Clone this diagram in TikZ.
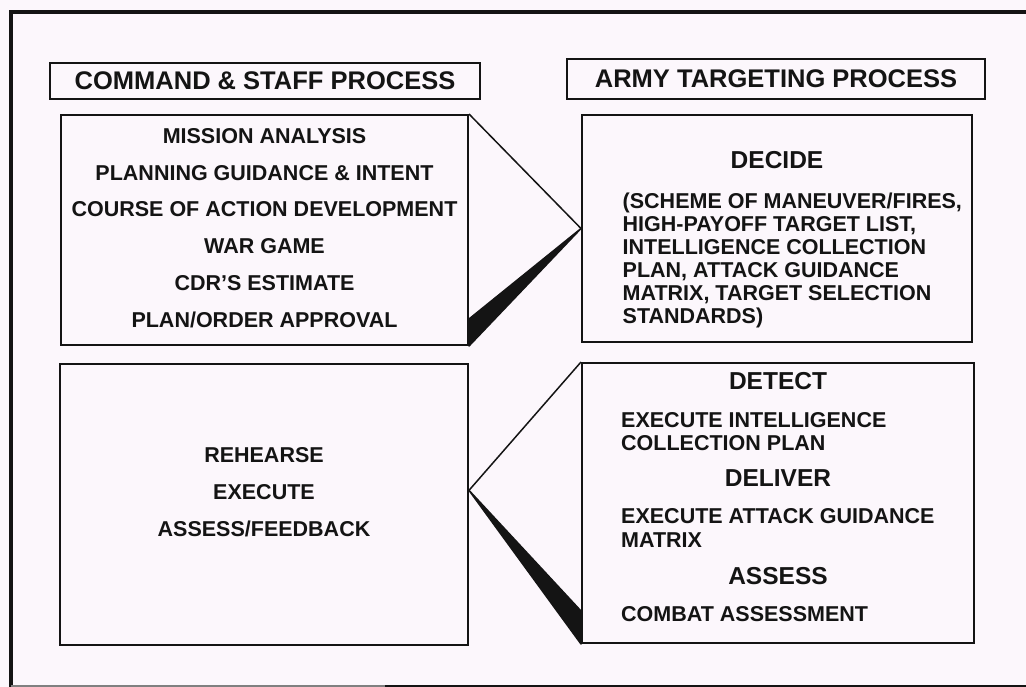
\documentclass[tikz,border=0pt]{standalone}
\usepackage{fontspec}
\setmainfont{Liberation Sans}
\usetikzlibrary{calc}
\definecolor{bgpink}{RGB}{252,247,252}
\definecolor{ink}{RGB}{20,20,20}
\begin{document}
\begin{tikzpicture}[x=1pt,y=-1pt,
  panel/.style={draw=ink, line width=2pt, inner sep=0pt},
  headbox/.style={draw=ink, line width=2.6pt, inner sep=0pt, text=ink, font=\fontsize{25.5}{28}\selectfont\bfseries},
  bodytxt/.style={text=ink, inner sep=0pt, font=\fontsize{21.5}{23}\selectfont\bfseries},
  stagetxt/.style={text=ink, inner sep=0pt, font=\fontsize{24.5}{26}\selectfont\bfseries},
  listtxt/.style={text=ink, inner sep=0pt, align=center, font=\fontsize{21.5}{36.8}\selectfont\bfseries},
  link/.style={draw=ink, line width=1.5pt, line join=round},
  wedge/.style={fill=ink}]
\useasboundingbox (0,0) rectangle (1026,687);
\fill[bgpink] (0,0) rectangle (1026,687);
% outer frame
\draw[ink, line width=4pt] (1030,12.5) -- (10.5,12.5) -- (10.5,690);
\draw[gray, line width=3pt] (10.5,686) -- (385,686);
\draw[ink, line width=3pt] (385,686) -- (1030,686);
% headers
\node[headbox, minimum width=430pt, minimum height=36pt] (csp) at (265,81) {COMMAND \& STAFF PROCESS};
\node[headbox, minimum width=418pt, minimum height=40pt] (atp) at (776,79) {ARMY TARGETING PROCESS};
% boxes
\node[panel, minimum width=407pt, minimum height=230pt] (tl) at (264.5,230) {};
\node[panel, minimum width=390pt, minimum height=227pt] (tr) at (777,228.5) {};
\node[panel, minimum width=408pt, minimum height=281pt] (bl) at (264,504.5) {};
\node[panel, minimum width=392pt, minimum height=280pt] (br) at (778,503) {};
% texts
\node[listtxt] (tltext) at (264.5,228) {MISSION ANALYSIS\\PLANNING GUIDANCE \& INTENT\\COURSE OF ACTION DEVELOPMENT\\WAR GAME\\CDR'S ESTIMATE\\PLAN/ORDER APPROVAL};
\node[stagetxt] (decide) at (777,160.5) {DECIDE};
\node[bodytxt, align=left, anchor=north west] (decidetxt) at (622.5,193) {(SCHEME OF MANEUVER/FIRES,\\HIGH-PAYOFF TARGET LIST,\\INTELLIGENCE COLLECTION\\PLAN, ATTACK GUIDANCE\\MATRIX, TARGET SELECTION\\STANDARDS)};
\node[listtxt] (bltext) at (264,492) {REHEARSE\\EXECUTE\\ASSESS/FEEDBACK};
\node[stagetxt] (detect) at (778,381.5) {DETECT};
\node[bodytxt, align=left, anchor=north west] (detecttxt) at (621,412) {EXECUTE INTELLIGENCE\\COLLECTION PLAN};
\node[stagetxt] (deliver) at (778,478) {DELIVER};
\node[bodytxt, align=left, anchor=north west, font=\fontsize{21.5}{24}\selectfont\bfseries] (delivertxt) at (621,508) {EXECUTE ATTACK GUIDANCE\\MATRIX};
\node[stagetxt] (assess) at (778,576.5) {ASSESS};
\node[bodytxt, anchor=north west] (assesstxt) at (621,606) {COMBAT ASSESSMENT};
% connectors
\draw[link] (tl.north east) -- (tr.west);
\filldraw[link, wedge] (tl.south east) -- (tr.west) -- ($(tl.south east)+(0,-27)$) -- cycle;
\coordinate (bapex) at ($(bl.north east)!0.45!(bl.south east)$);
\draw[link] (bapex) -- (br.north west);
\filldraw[link, wedge] (bapex) -- (br.south west) -- ($(br.south west)+(0,-33)$) -- cycle;
\end{tikzpicture}
\end{document}
